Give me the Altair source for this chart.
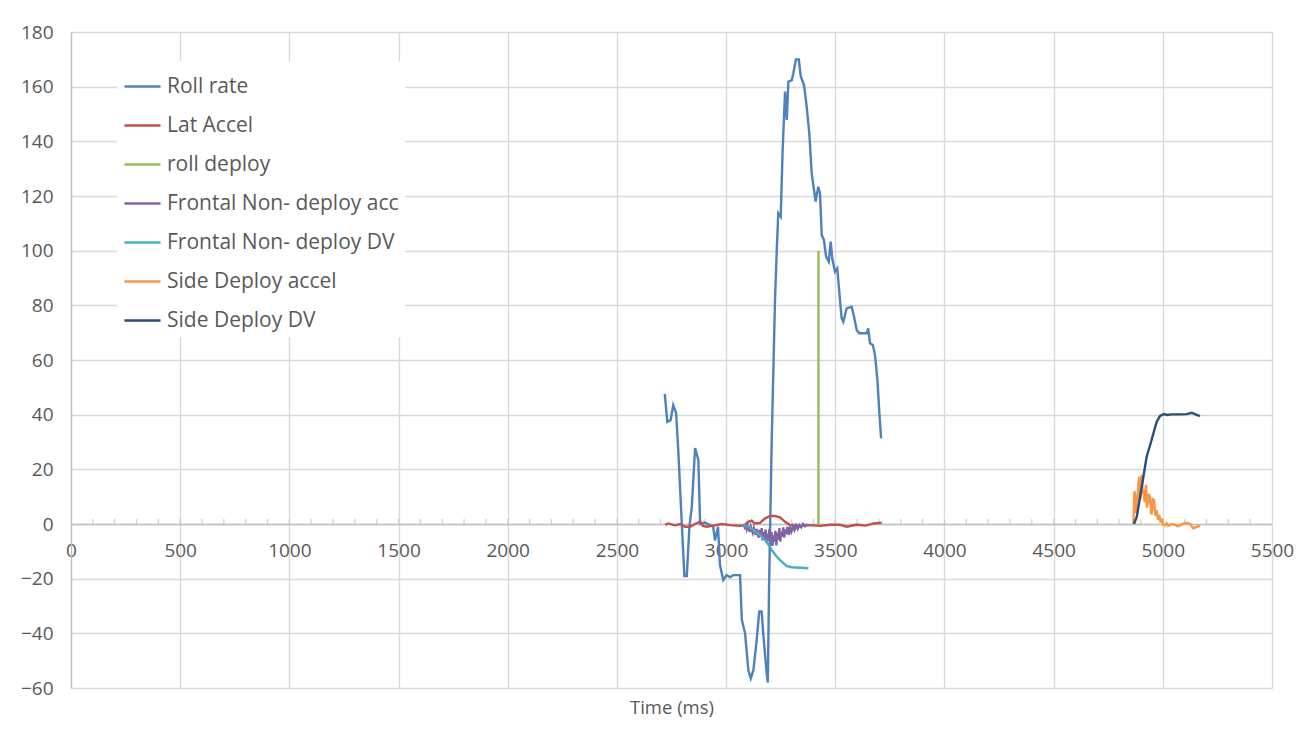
import altair as alt
import pandas as pd

series_names = ["Roll rate", "Lat Accel", "roll deploy", "Frontal Non- deploy acc",
                "Frontal Non- deploy DV", "Side Deploy accel", "Side Deploy DV"]
series_colors = ["#4F81BD", "#C0504D", "#9BBB59", "#8064A2", "#4BACC6", "#F79646", "#2C4D75"]

roll_t = [2719, 2731, 2746, 2758, 2771, 2781, 2797, 2809, 2820, 2832, 2843, 2858, 2873, 2881,
          2904, 2941, 2949, 2963, 2972, 2987, 3003, 3018, 3033, 3064, 3072, 3087, 3102, 3113,
          3125, 3140, 3152, 3163, 3170, 3186, 3191, 3197, 3209, 3224, 3232, 3239, 3250, 3259,
          3270, 3278, 3285, 3301, 3308, 3320, 3333, 3342, 3357, 3369, 3381, 3392, 3410, 3422,
          3430, 3438, 3448, 3458, 3470, 3479, 3486, 3499, 3509, 3529, 3537, 3552, 3575, 3586,
          3598, 3610, 3644, 3651, 3659, 3672, 3682, 3693, 3702, 3710]
roll_v = [47.6, 37.4, 38, 43.5, 40.6, 27, 0.4, -19, -19, -1, 6.3, 27.8, 23.4, 0,
          0.5, -1, -6, -1, -15, -20.5, -18.7, -19.5, -18.7, -18.7, -35, -40, -53.5, -56.5,
          -53.5, -42.5, -32, -32, -40, -54.7, -58, -21.6, 30.7, 82, 100, 113.7, 112.4, 136.8,
          158.2, 147.8, 161.8, 162.4, 164.9, 170, 170, 163.7, 160.6, 152.7, 143, 128.3, 118, 123.4,
          121, 105.7, 104, 97.8, 96, 103.3, 97.2, 92.3, 93.5, 75.3, 74, 78.9, 79.5, 75.8,
          71, 69.8, 69.8, 71.6, 66.1, 65.5, 61.8, 52.7, 40.5, 31.3]

lat_t = [2721, 2735, 2766, 2789, 2812, 2835, 2858, 2881, 2894, 2911, 2941, 2980, 3018, 3064,
         3087, 3102, 3117, 3132, 3155, 3178, 3201, 3224, 3247, 3270, 3293, 3339, 3385, 3430,
         3476, 3522, 3552, 3598, 3640, 3676, 3713]
lat_v = [-0.3, 0.2, -0.5, 0, -1, -1, 0, 0.9, -0.7, -1, -0.6, 0, -0.4, -0.7,
         -0.4, 0.8, 1.2, 0.2, 0.4, 2, 2.9, 2.9, 2.4, 0.8, -0.4, -0.7, -0.4, -0.7,
         -0.3, -0.3, -1, -0.3, -0.6, 0.2, 0.5]

deploy_t = [3423, 3423]
deploy_v = [0, 100]

facc_t = [3080, 3085, 3090, 3095, 3100, 3104, 3108, 3113, 3118, 3122, 3127, 3131, 3136, 3140,
          3145, 3149, 3154, 3158, 3163, 3167, 3172, 3176, 3181, 3185, 3190, 3194, 3199, 3203,
          3208, 3212, 3217, 3221, 3226, 3230, 3235, 3239, 3244, 3248, 3253, 3257, 3262, 3266,
          3271, 3276, 3281, 3287, 3293, 3299, 3306, 3313, 3320, 3328, 3336, 3344, 3352, 3362,
          3372]
facc_v = [0, -1.2, -0.3, -2, -0.8, -1.5, -2.8, -1, -2.2, -3.2, -1.5, -2.6, -4, -1.8,
          -3.5, -5, -2.2, -4.6, -1.5, -6, -3, -5.2, -2, -7, -3.5, -6.2, -1.8, -5.5,
          -3, -8, -4.2, -6.5, -2.5, -7.8, -3.2, -5.8, -1.5, -6.4, -2.8, -4.5, -1.2, -5,
          -2, -3.6, -1, -4, -1.5, -2.8, -0.8, -2.2, -0.5, -1.8, -0.4, -1.2, 0, -0.8,
          0]

fdv_t = [3079, 3100, 3125, 3155, 3186, 3209, 3232, 3255, 3278, 3300, 3339, 3377]
fdv_v = [-0.3, -1, -2.2, -4, -6.5, -9.5, -12, -13.8, -15.4, -15.8, -16, -16.2]

sacc_t = [4865, 4870, 4873, 4878, 4883, 4888, 4893, 4898, 4904, 4908, 4911, 4917, 4923, 4927,
          4931, 4936, 4942, 4946, 4949, 4955, 4960, 4966, 4972, 4978, 4984, 4990, 4995, 5002,
          5010, 5018, 5025, 5040, 5056, 5067, 5078, 5094, 5109, 5125, 5140, 5155, 5170]
sacc_v = [0, 12, 10.6, 4, 6.3, 15, 17.3, 9, 18, 11, 12.4, 8, 14.3, 6,
          7.6, 11, 9.4, 4, 3.9, 9, 8.8, 3, 5.1, 1.5, 3.3, 0.5, 2, -0.3,
          -0.4, 0.3, -0.7, 0, -0.3, -0.8, -0.6, 0.2, 0.4, 0, -1.6, -1, -0.7]

sdv_t = [4868, 4881, 4896, 4911, 4926, 4942, 4957, 4972, 4987, 5005, 5021, 5040, 5078, 5109,
         5132, 5147, 5170]
sdv_v = [0, 2.7, 10, 17.3, 24.6, 28.9, 33.2, 37.4, 39.5, 40.2, 39.9, 40.1, 40.1, 40.2,
         40.7, 40.2, 39.5]

x_ticks = list(range(0, 5501, 500))
y_ticks = list(range(-60, 181, 20))
minor_ticks = list(range(100, 5500, 100))

all_series = [(roll_t, roll_v), (lat_t, lat_v), (deploy_t, deploy_v), (facc_t, facc_v),
              (fdv_t, fdv_v), (sacc_t, sacc_v), (sdv_t, sdv_v)]
rows = []
for name, (ts, vs) in zip(series_names, all_series):
    for i, (t, v) in enumerate(zip(ts, vs)):
        rows.append({"series": name, "t": t, "v": v, "idx": i})
df = pd.DataFrame(rows)

FONT = "Open Sans"
GRAY = "#595959"
GRID = "#d9d9d9"

x_scale = alt.Scale(domain=[0, 5500], nice=False, zero=False)
y_scale = alt.Scale(domain=[-60, 180], nice=False, zero=False)

lines = alt.Chart(df).mark_line(strokeWidth=2.4).encode(
    x=alt.X("t:Q", scale=x_scale,
            axis=alt.Axis(values=x_ticks, format="d", title="Time (ms)", offset=-164, grid=True,
                          gridColor=GRID, gridWidth=1.3, domainColor="#bfbfbf", domainWidth=1.3,
                          ticks=False, labelPadding=17, labelFontSize=19, labelColor=GRAY,
                          labelFont=FONT, titleFont=FONT, titleFontSize=18.5,
                          titleFontWeight="normal", titleColor=GRAY, titleY=183,
                          titleBaseline="middle", labelFlush=False)),
    y=alt.Y("v:Q", scale=y_scale,
            axis=alt.Axis(values=y_ticks, format="d", title=None, grid=True, gridColor=GRID,
                          gridWidth=1.3, domainColor="#bfbfbf", domainWidth=1.3, ticks=False,
                          labelPadding=18, labelFontSize=19, labelColor=GRAY, labelFont=FONT,
                          minExtent=63, maxExtent=63)),
    color=alt.Color("series:N",
                    scale=alt.Scale(domain=series_names, range=series_colors),
                    sort=series_names,
                    legend=alt.Legend(title=None, orient="none", legendX=46, legendY=29,
                                      fillColor="white", padding=6, symbolType="stroke",
                                      symbolSize=1300, symbolStrokeWidth=2.5,
                                      labelFontSize=21, labelFont=FONT, labelColor=GRAY,
                                      labelOffset=5, rowPadding=9, labelLimit=400)),
    order=alt.Order("idx:Q"),
    detail="series:N",
)

ticks_df = pd.DataFrame({"t": minor_ticks, "v": [0] * len(minor_ticks)})
minor = alt.Chart(ticks_df).mark_tick(orient="vertical", size=5, thickness=1.3,
                                      color="#bfbfbf", yOffset=-2.5).encode(
    x=alt.X("t:Q", scale=x_scale),
    y=alt.Y("v:Q", scale=y_scale),
)

chart = alt.layer(minor, lines).properties(
    width=1201, height=656,
    padding={"left": 0, "top": 15, "right": 5, "bottom": 5},
    background="white",
).configure_view(stroke=None)

chart.save("out.html", embed_options={"renderer": "svg", "actions": False})
